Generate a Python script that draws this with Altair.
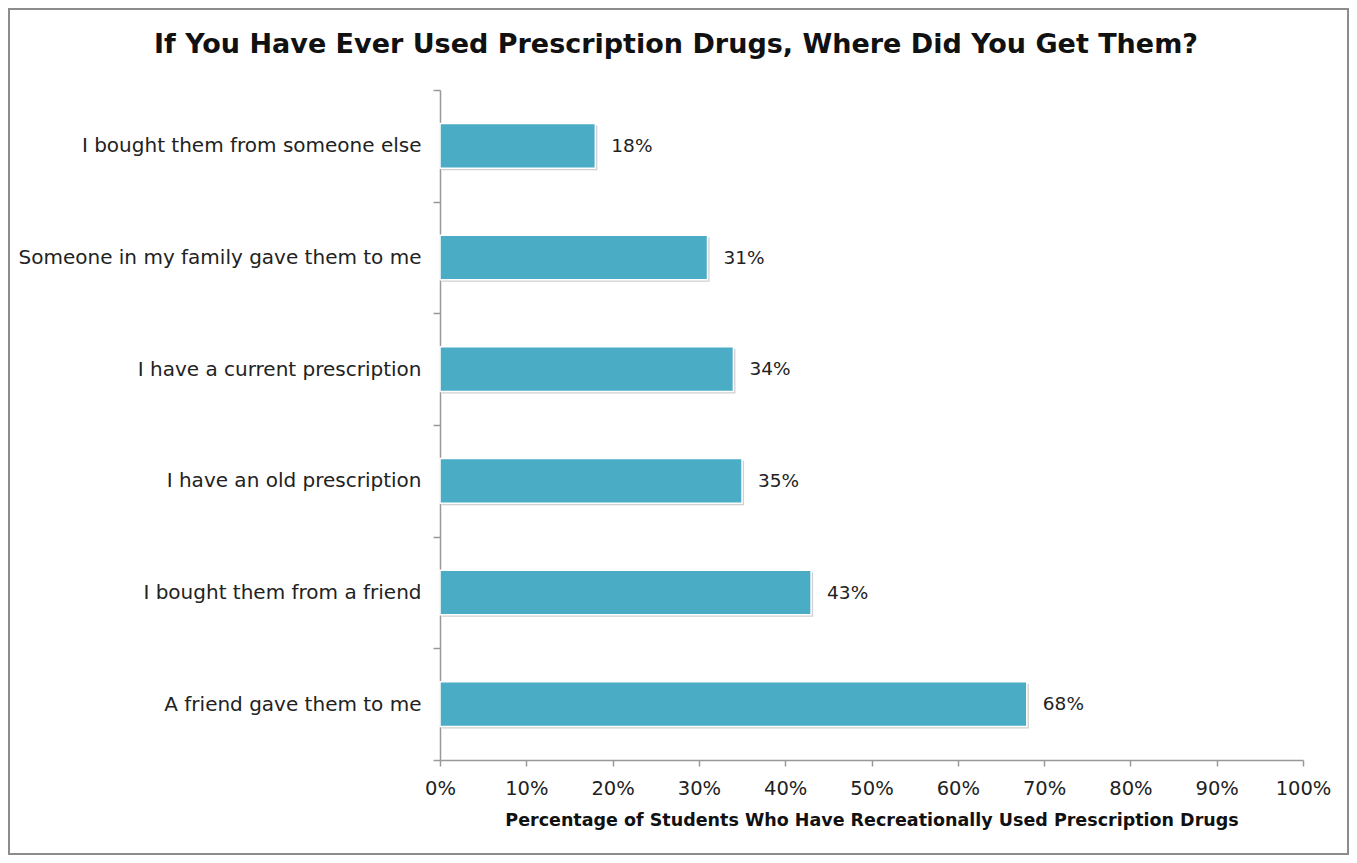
import altair as alt
import pandas as pd

categories = [
    "I bought them from someone else",
    "Someone in my family gave them to me",
    "I have a current prescription",
    "I have an old prescription",
    "I bought them from a friend",
    "A friend gave them to me",
]
values = [18, 31, 34, 35, 43, 68]
x_ticks = list(range(0, 101, 10))
title_text = "If You Have Ever Used Prescription Drugs, Where Did You Get Them?"

df = pd.DataFrame({"source": categories, "pct": values})
df["frac"] = df["pct"] / 100.0
df["label"] = df["pct"].astype(str) + "%"

FONT = "DejaVu Sans"
BAR = "#4BACC6"

y_enc = alt.Y(
    "source:N",
    sort=categories,
    title=None,
    scale=alt.Scale(paddingInner=0, paddingOuter=0),
    axis=alt.Axis(
        tickBand="extent",
        labelFont=FONT,
        labelFontSize=20,
        labelColor="#222222",
        labelPadding=12,
        tickSize=7,
        domainColor="#999999",
        tickColor="#999999",
        domainWidth=1.5,
        tickWidth=1.5,
        labelLimit=500,
    ),
)
x_enc = alt.X(
    "frac:Q",
    title="Percentage of Students Who Have Recreationally Used Prescription Drugs",
    scale=alt.Scale(domain=[0, 1], nice=False),
    axis=alt.Axis(
        values=[t / 100 for t in x_ticks],
        format=".0%",
        labelFont=FONT,
        labelFontSize=19.5,
        labelColor="#222222",
        labelPadding=13,
        labelFlush=False,
        tickSize=6,
        domainColor="#999999",
        tickColor="#999999",
        domainWidth=1.5,
        tickWidth=1.5,
        grid=False,
        titleFont=FONT,
        titleFontSize=17.5,
        titleFontWeight="bold",
        titleColor="#111111",
        titlePadding=14,
    ),
)

BAND = {"band": 0.4}
shadow = alt.Chart(df).mark_bar(color="#d0d0d0", xOffset=2, yOffset=2, height=BAND).encode(
    x=x_enc, y=y_enc
)
bars = alt.Chart(df).mark_bar(color=BAR, stroke="white", strokeWidth=1.5, height=BAND).encode(
    x=x_enc, y=y_enc
)
labels = alt.Chart(df).mark_text(
    align="left", baseline="middle", dx=16, font=FONT, fontSize=18.5, color="#222222"
).encode(x="frac:Q", y=alt.Y("source:N", sort=categories), text="label:N")

border = alt.Chart(df).mark_rect(
    fill=None, stroke="#8c8c8c", strokeWidth=2, clip=False
).encode(
    x=alt.value(-431), x2=alt.value(908), y=alt.value(-81), y2=alt.value(764)
)

title = alt.Chart(pd.DataFrame({"t": [title_text]})).mark_text(
    align="center", baseline="middle", font=FONT, fontSize=27, fontWeight="bold",
    color="#111111", clip=False
).encode(x=alt.value(236), y=alt.value(-45), text="t:N")

chart = (
    alt.layer(border, shadow, bars, labels, title)
    .properties(
        width=863,
        height=670,
        padding={"left": 432, "top": 82, "right": 46, "bottom": 95},
        autosize=alt.AutoSizeParams(type="none"),
        background="white",
    )
    .configure_view(stroke=None)
)

chart.save("out.html", embed_options={"renderer": "svg", "actions": False})
